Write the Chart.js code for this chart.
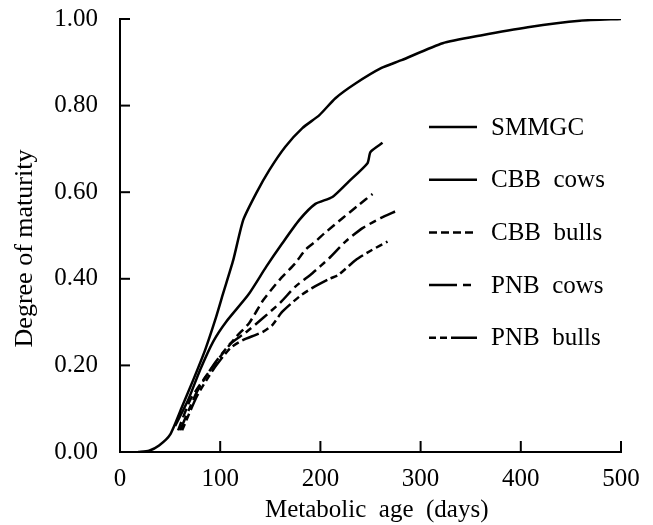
<!DOCTYPE html>
<html>
<head>
<meta charset="utf-8">
<script src="https://cdn.jsdelivr.net/npm/chart.js@4"></script>
<style>
  html, body { margin: 0; padding: 0; background: #fff; }
  #wrap { width: 653px; height: 525px; }
</style>
</head>
<body>
<div id="wrap"><canvas id="chart" width="653" height="525"></canvas></div>
<script>
// values (metabolic age in days, degree of maturity)
const smmgcAge = [18, 29, 39, 50, 62, 73, 85, 95, 103, 113, 123, 136, 149, 165, 182, 199, 215, 235, 261, 281, 322, 360, 407, 459, 500];
const smmgcMat = [0, 0.003, 0.015, 0.04, 0.105, 0.166, 0.236, 0.305, 0.367, 0.443, 0.536, 0.598, 0.651, 0.705, 0.748, 0.778, 0.817, 0.851, 0.887, 0.905, 0.944, 0.962, 0.981, 0.996, 1.0];

const cbbCowsAge = [55, 68, 80, 93, 106, 128, 146, 162, 179, 195, 212, 228, 247, 250, 262];
const cbbCowsMat = [0.06, 0.12, 0.19, 0.255, 0.301, 0.363, 0.428, 0.482, 0.536, 0.573, 0.589, 0.624, 0.667, 0.693, 0.714];

const cbbBullsAge = [58, 70, 83, 100, 116, 129, 143, 159, 175, 185, 195, 204, 222, 238, 252];
const cbbBullsMat = [0.05, 0.12, 0.166, 0.22, 0.266, 0.298, 0.351, 0.397, 0.436, 0.467, 0.486, 0.505, 0.54, 0.57, 0.596];

const pnbCowsAge = [60, 77, 93, 110, 125, 143, 160, 175, 192, 209, 225, 242, 260, 276];
const pnbCowsMat = [0.05, 0.14, 0.2, 0.25, 0.275, 0.31, 0.345, 0.382, 0.413, 0.448, 0.486, 0.517, 0.54, 0.557];

const pnbBullsAge = [62, 77, 93, 110, 123, 135, 143, 152, 162, 179, 192, 209, 218, 235, 251, 267];
const pnbBullsMat = [0.05, 0.13, 0.19, 0.24, 0.259, 0.27, 0.278, 0.293, 0.324, 0.359, 0.379, 0.4, 0.409, 0.443, 0.466, 0.486];

const seriesNames = ["SMMGC", "CBB  cows", "CBB  bulls", "PNB  cows", "PNB  bulls"];
const xTicks = [0, 100, 200, 300, 400, 500];
const yTicks = [0, 0.2, 0.4, 0.6, 0.8, 1.0];

const FONT = "'Liberation Serif', 'Times New Roman', serif";

function pairs(xs, ys) {
  return xs.map((x, i) => ({ x: x, y: ys[i] }));
}

function line(label, xs, ys, dash, legendDash) {
  return {
    label: label,
    data: pairs(xs, ys),
    showLine: true,
    borderColor: "#000",
    borderWidth: 2.5,
    borderDash: dash,
    legendDash: legendDash,
    pointRadius: 0,
    tension: 0.2,
    fill: false
  };
}

// short ticks pointing into the plot, and the inset legend
const inwardTicks = {
  id: "inwardTicks",
  afterDraw(chart) {
    const ctx = chart.ctx;
    const xs = chart.scales.x, ys = chart.scales.y;
    const area = chart.chartArea;
    ctx.save();
    ctx.strokeStyle = "#000";
    ctx.lineWidth = 2;
    xTicks.forEach(v => {
      const px = xs.getPixelForValue(v);
      ctx.beginPath();
      ctx.moveTo(px, area.bottom);
      ctx.lineTo(px, area.bottom - 11);
      ctx.stroke();
    });
    yTicks.forEach(v => {
      const py = ys.getPixelForValue(v);
      ctx.beginPath();
      ctx.moveTo(area.left, py);
      ctx.lineTo(area.left + 10, py);
      ctx.stroke();
    });
    ctx.restore();
  }
};

const insetLegend = {
  id: "insetLegend",
  afterDraw(chart) {
    const ctx = chart.ctx;
    const x0 = 429, y0 = 127, gap = 52.7;
    ctx.save();
    ctx.font = "25px " + FONT;
    ctx.fillStyle = "#000";
    ctx.textBaseline = "middle";
    chart.data.datasets.forEach((ds, i) => {
      const y = y0 + i * gap;
      ctx.strokeStyle = "#000";
      ctx.lineWidth = 2.5;
      ctx.setLineDash(ds.legendDash || ds.borderDash || []);
      ctx.beginPath();
      ctx.moveTo(x0, y);
      ctx.lineTo(x0 + 48, y);
      ctx.stroke();
      ctx.setLineDash([]);
      ctx.fillText(ds.label, x0 + 62, y + 1);
    });
    ctx.restore();
  }
};

const chartCtx = document.getElementById("chart").getContext("2d");

const chart = new Chart(chartCtx, {
  type: "scatter",
  data: {
    datasets: [
      line(seriesNames[0], smmgcAge, smmgcMat, []),
      line(seriesNames[1], cbbCowsAge, cbbCowsMat, []),
      line(seriesNames[2], cbbBullsAge, cbbBullsMat, [9, 5], [8, 4]),
      line(seriesNames[3], pnbCowsAge, pnbCowsMat, [16, 5, 7, 5], [28, 6, 8, 20]),
      line(seriesNames[4], pnbBullsAge, pnbBullsMat, [7, 4, 7, 4, 18, 4], [7, 4, 7, 4, 30, 4])
    ]
  },
  options: {
    responsive: false,
    animation: false,
    layout: { padding: { top: 19, right: 32, left: 0, bottom: 0 } },
    plugins: {
      legend: { display: false },
      tooltip: { enabled: false }
    },
    scales: {
      x: {
        type: "linear",
        min: 0,
        max: 500,
        afterFit: s => { s.height = 73; s.paddingLeft = 0; s.paddingRight = 0; },
        afterBuildTicks: s => { s.ticks = xTicks.map(v => ({ value: v })); },
        grid: { display: false },
        border: { display: true, color: "#000", width: 2 },
        ticks: { color: "#000", padding: 4, maxRotation: 0, font: { family: FONT, size: 25 } },
        title: {
          display: true,
          text: "\u00a0\u00a0Metabolic  age  (days)",
          color: "#000",
          padding: { top: 8, bottom: 0 },
          font: { family: FONT, size: 25 }
        }
      },
      y: {
        min: 0,
        max: 1,
        afterFit: s => { s.width = 120; s.paddingTop = 0; s.paddingBottom = 0; },
        afterBuildTicks: s => { s.ticks = yTicks.map(v => ({ value: v })); },
        grid: { display: false },
        border: { display: true, color: "#000", width: 2 },
        ticks: {
          color: "#000",
          padding: 14,
          font: { family: FONT, size: 25 },
          callback: v => v.toFixed(2)
        },
        title: {
          display: true,
          text: "Degree of maturity\u00a0\u00a0\u00a0\u00a0",
          color: "#000",
          padding: { top: 10, bottom: 0 },
          font: { family: FONT, size: 26 }
        }
      }
    }
  },
  plugins: [inwardTicks, insetLegend]
});
</script>
</body>
</html>
